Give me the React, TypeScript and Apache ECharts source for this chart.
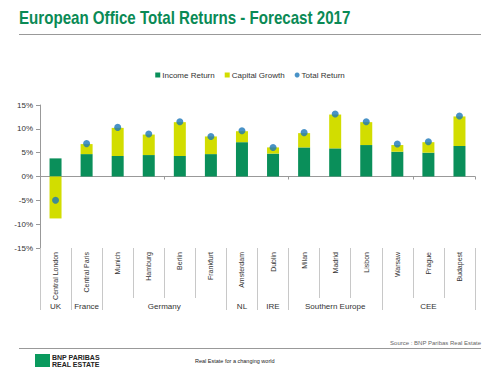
import React, { useEffect, useRef } from "react";
import * as echarts from "echarts";

const cities = [
  "Central London", "Central Paris", "Munich", "Hamburg", "Berlin", "Frankfurt",
  "Amsterdam", "Dublin", "Milan", "Madrid", "Lisbon", "Warsaw", "Prague", "Budapest",
];
const incomeReturn = [3.8, 4.7, 4.3, 4.5, 4.3, 4.7, 7.2, 4.8, 6.1, 5.9, 6.6, 5.2, 5.0, 6.4];
const capitalGrowth = [-8.8, 2.1, 5.9, 4.3, 7.1, 3.7, 2.3, 1.3, 3.0, 7.1, 4.8, 1.4, 2.2, 6.2];
const totalReturn = [-5.0, 6.9, 10.3, 8.9, 11.5, 8.4, 9.6, 6.1, 9.2, 13.1, 11.5, 6.8, 7.3, 12.7];
// region groups: [name, first index, count]
const groups: [string, number, number][] = [
  ["UK", 0, 1], ["France", 1, 1], ["Germany", 2, 4], ["NL", 6, 1],
  ["IRE", 7, 1], ["Southern Europe", 8, 3], ["CEE", 11, 3],
];
const yTicks = { min: -15, max: 15, interval: 5 };

const GREEN = "#0a8f5a";
const YELLOW = "#d2dd00";
const BLUE = "#1b77b9";
const FONT = "Liberation Sans, Arial, sans-serif";

export default function App() {
  const ref = useRef<HTMLDivElement>(null);
  useEffect(() => {
    const chart = echarts.init(ref.current!, null, { renderer: "svg" });
    const groupStarts = new Set(groups.map((g) => g[1]));
    const groupCenters = new Map<number, string>();
    groups.forEach((g) => groupCenters.set(g[1] + g[2] / 2, g[0]));
    const sepColor = "#c8c8c8";
    chart.setOption({
      animation: false,
      legend: {
        top: 66,
        left: "center",
        itemWidth: 5,
        itemHeight: 5,
        itemGap: 10,
        textStyle: { fontSize: 8, color: "#333", fontFamily: FONT, padding: [0, 0, 0, -3] },
        data: [
          { name: "Income Return", icon: "rect" },
          { name: "Capital Growth", icon: "rect" },
          { name: "Total Return", icon: "circle" },
        ],
      },
      grid: { left: 40, right: 25, top: 105, bottom: 127 },
      xAxis: [
        {
          type: "category",
          data: cities,
          position: "bottom",
          axisLine: { show: false, onZero: false },
          axisTick: { show: true, length: 50, lineStyle: { color: sepColor } },
          axisLabel: { rotate: 90, fontSize: 7, color: "#333", margin: 4, fontFamily: FONT, interval: 0 },
        },
        {
          type: "category",
          data: cities,
          position: "bottom",
          axisLine: { show: false, onZero: false },
          axisTick: {
            show: true,
            length: 62,
            interval: (i: number) => groupStarts.has(i),
            lineStyle: { color: sepColor },
          },
          axisLabel: { show: false },
        },
        {
          type: "value",
          min: 0,
          max: cities.length,
          interval: 0.5,
          position: "bottom",
          axisLine: { show: false, onZero: false },
          axisTick: { show: false },
          splitLine: { show: false },
          axisLabel: {
            margin: 54,
            fontSize: 8,
            color: "#333",
            fontFamily: FONT,
            showMinLabel: true,
            showMaxLabel: true,
            formatter: (v: number) => groupCenters.get(v) ?? "",
          },
        },
        {
          type: "category",
          data: cities,
          position: "bottom",
          axisLine: { show: true, onZero: true, lineStyle: { color: "#999" } },
          axisTick: { show: true, length: 3, lineStyle: { color: "#999" } },
          axisLabel: { show: false },
        },
      ],
      yAxis: {
        type: "value",
        min: yTicks.min,
        max: yTicks.max,
        interval: yTicks.interval,
        axisLine: { show: true, onZero: false, lineStyle: { color: "#999" } },
        axisTick: { show: true, length: 4, lineStyle: { color: "#999" } },
        splitLine: { show: false },
        axisLabel: { formatter: "{value}%", fontSize: 8, color: "#333", margin: 7, fontFamily: FONT },
      },
      series: [
        {
          name: "Income Return",
          type: "bar",
          stack: "tr",
          xAxisIndex: 0,
          barWidth: 12,
          data: incomeReturn,
          itemStyle: { color: GREEN },
        },
        {
          name: "Capital Growth",
          type: "bar",
          stack: "tr",
          xAxisIndex: 0,
          barWidth: 12,
          data: capitalGrowth,
          itemStyle: { color: YELLOW },
        },
        {
          name: "Total Return",
          type: "scatter",
          xAxisIndex: 0,
          symbolSize: 7,
          data: totalReturn,
          itemStyle: { color: BLUE },
          z: 5,
        },
      ],
      graphic: [
        {
          type: "text",
          x: 19,
          y: 18.5,
          scaleX: 0.84,
          style: {
            text: "European Office Total Returns - Forecast 2017",
            fontSize: 18,
            fontWeight: "bold",
            fill: "#0a8a55",
            verticalAlign: "middle",
            fontFamily: FONT,
          },
        },
        { type: "line", shape: { x1: 19, y1: 34.5, x2: 481, y2: 34.5 }, style: { stroke: "#999", lineWidth: 1 } },
        { type: "line", shape: { x1: 19, y1: 348.5, x2: 481, y2: 348.5 }, style: { stroke: "#999", lineWidth: 1 } },
        {
          type: "text",
          x: 481,
          y: 343,
          style: { text: "Source : BNP Paribas Real Estate", fontSize: 6, fill: "#666", align: "right", verticalAlign: "middle", fontFamily: FONT },
        },
        { type: "rect", shape: { x: 35, y: 354, width: 15, height: 13 }, style: { fill: "#0a9a5e" } },
        {
          type: "text",
          x: 52,
          y: 357.5,
          style: { text: "BNP PARIBAS", fontSize: 7, fontWeight: "bold", fill: "#222", verticalAlign: "middle", fontFamily: FONT },
        },
        {
          type: "text",
          x: 52,
          y: 364.5,
          style: { text: "REAL ESTATE", fontSize: 7, fontWeight: "bold", fill: "#222", verticalAlign: "middle", fontFamily: FONT },
        },
        {
          type: "text",
          x: 195,
          y: 361,
          style: { text: "Real Estate for a changing world", fontSize: 5.5, fill: "#222", verticalAlign: "middle", fontFamily: FONT },
        },
      ],
    });
    return () => chart.dispose();
  }, []);
  return <div ref={ref} style={{ width: 500, height: 375, position: "absolute", left: 0, top: 0 }} />;
}
